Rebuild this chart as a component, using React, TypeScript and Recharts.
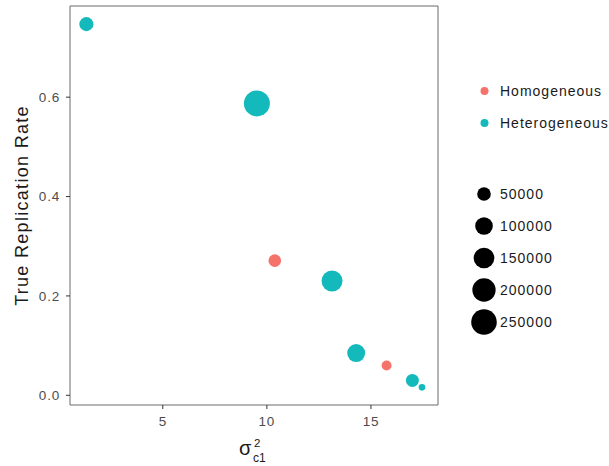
import React from 'react';
import { ScatterChart, Scatter, XAxis, YAxis, ReferenceArea } from 'recharts';

const categories = ['Homogeneous', 'Heterogeneous'];
const categoryColors = ['#F5736B', '#14B9BC'];

const xValues = [1.33, 9.52, 10.38, 13.13, 14.29, 15.75, 16.99, 17.45];
const yValues = [0.747, 0.5875, 0.271, 0.23, 0.085, 0.06, 0.03, 0.016];
const groupOf = ['Heterogeneous', 'Heterogeneous', 'Homogeneous', 'Heterogeneous', 'Heterogeneous', 'Homogeneous', 'Heterogeneous', 'Heterogeneous'];
const sizeValues = [54000, 260000, 40000, 155000, 105000, 19000, 43000, 3600];

const sizeBreaks = [50000, 100000, 150000, 200000, 250000];
const xTicks = [5, 10, 15];
const yTicks = [0, 0.2, 0.4, 0.6];
const xDomain = [0.543, 18.22];
const yDomain = [-0.0195, 0.7835];

const FONT = '"Liberation Sans", Arial, Helvetica, sans-serif';

const sizeMax = 260000;
const radiusOf = (v: number) => 2 + 11 * Math.sqrt(v / sizeMax);

const points = xValues.map((x, i) => ({ x, y: yValues[i], group: groupOf[i], n: sizeValues[i] }));

const makeShape = (color: string) => (props: any) => (
  <circle cx={props.cx} cy={props.cy} r={radiusOf(props.payload.n)} fill={color} />
);

const LegendBlock = () => {
  const colorRows = [91, 123];
  const sizeRowStart = 194;
  const sizeStep = 32;
  const textProps = { fontSize: 14, fill: '#1a1a1a', fontFamily: FONT, letterSpacing: 1 };
  return (
    <svg width={139} height={466} style={{ position: 'absolute', left: 470, top: 0, display: 'block' }}>
      {categories.map((c, i) => (
        <g key={c}>
          <circle cx={14.5} cy={colorRows[i]} r={4} fill={categoryColors[i]} />
          <text x={30} y={colorRows[i] + 5} {...textProps}>{c}</text>
        </g>
      ))}
      {sizeBreaks.map((b, i) => {
        const cy = sizeRowStart + i * sizeStep;
        return (
          <g key={b}>
            <circle cx={14} cy={cy} r={radiusOf(b)} fill="#000" />
            <text x={30} y={cy + 5} {...textProps}>{b}</text>
          </g>
        );
      })}
    </svg>
  );
};

const XTick = (props: any) => (
  <text
    x={props.x}
    y={props.y + 15}
    textAnchor="middle"
    fontSize={13.5}
    letterSpacing={0.8}
    fill="#4d4d4d"
    fontFamily={FONT}
  >
    {props.payload.value}
  </text>
);

const YTick = (props: any) => (
  <text
    x={props.x - 4}
    y={props.y + 4.8}
    textAnchor="end"
    fontSize={13.5}
    letterSpacing={0.8}
    fill="#4d4d4d"
    fontFamily={FONT}
  >
    {Number(props.payload.value).toFixed(1)}
  </text>
);

const XLabel = (props: any) => {
  const vb = props.viewBox || { x: 70, y: 405, width: 368, height: 50 };
  const cx = vb.x + vb.width / 2;
  const top = vb.y;
  return (
    <g fontFamily={FONT} fill="#1a1a1a">
      <text x={cx - 15} y={top + 50} fontSize={20}>σ</text>
      <text x={cx} y={top + 42} fontSize={11.5}>2</text>
      <text x={cx - 1} y={top + 57} fontSize={12}>c1</text>
    </g>
  );
};

const YLabel = (props: any) => {
  const vb = props.viewBox || { x: 10, y: 6, width: 60, height: 399 };
  const cy = vb.y + vb.height / 2;
  return (
    <text
      transform={`translate(28, ${cy}) rotate(-90)`}
      textAnchor="middle"
      fontSize={18}
      letterSpacing={1.3}
      fill="#1a1a1a"
      fontFamily={FONT}
    >
      True Replication Rate
    </text>
  );
};

export default function App() {
  return (
    <div style={{ position: 'absolute', left: 0, top: 0, width: 609, height: 466, background: '#fff' }}>
      <ScatterChart width={609} height={466} margin={{ top: 6, right: 171, bottom: 11, left: 10 }}>
        <XAxis
          type="number"
          dataKey="x"
          domain={xDomain}
          ticks={xTicks}
          allowDataOverflow
          axisLine={false}
          tickLine={{ stroke: '#333' }}
          tickSize={4}
          tick={XTick}
          height={50}
          label={{ content: XLabel }}
        />
        <YAxis
          type="number"
          dataKey="y"
          domain={yDomain}
          ticks={yTicks}
          allowDataOverflow
          axisLine={false}
          tickLine={{ stroke: '#333' }}
          tickSize={4}
          tick={YTick}
          width={60}
          label={{ content: YLabel }}
        />
        <ReferenceArea
          x1={xDomain[0]}
          x2={xDomain[1]}
          y1={yDomain[0]}
          y2={yDomain[1]}
          fill="none"
          stroke="#6b6b6b"
          strokeWidth={1}
          ifOverflow="visible"
        />
        {categories.map((c, i) => (
          <Scatter
            key={c}
            name={c}
            data={points.filter((p) => p.group === c)}
            fill={categoryColors[i]}
            shape={makeShape(categoryColors[i])}
            isAnimationActive={false}
          />
        ))}
      </ScatterChart>
      <LegendBlock />
    </div>
  );
}
